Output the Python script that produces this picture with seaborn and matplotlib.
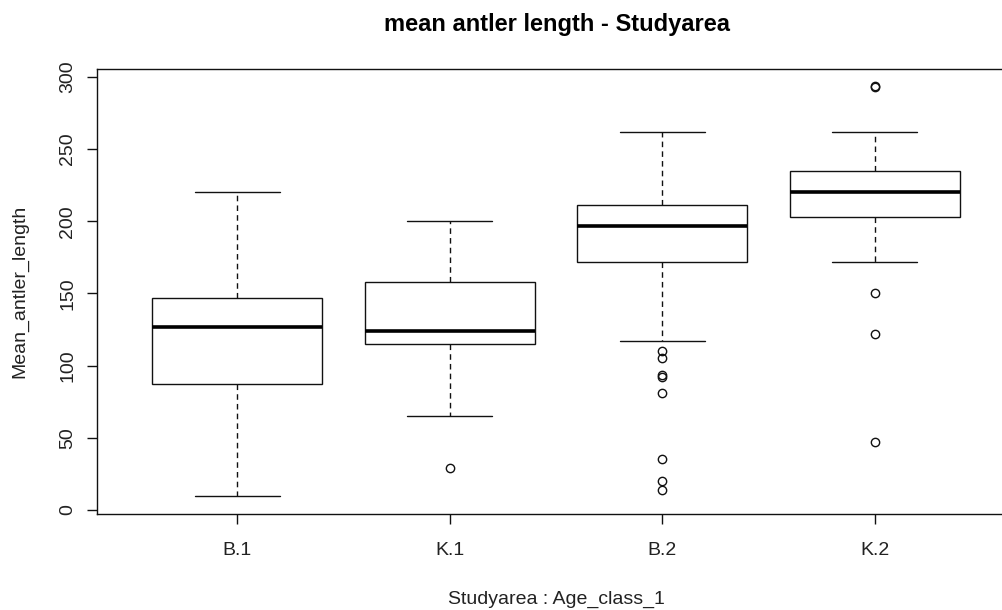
import numpy as np
import pandas as pd
import matplotlib
matplotlib.use("Agg")
import matplotlib.pyplot as plt
import seaborn as sns

# Data (values per Studyarea : Age_class_1 group)
categories = ["B.1", "K.1", "B.2", "K.2"]
b1_values = [10, 87, 127, 147, 220]
k1_values = [29, 65, 115, 120, 124, 140, 158, 180, 200]
b2_values = [14, 20, 35, 81, 92, 93.5, 105.5, 110, 117,
             172,
             175, 178, 181, 184, 187, 190, 193, 195,
             197,
             199, 201, 202, 204, 205, 207, 208, 210,
             211,
             214, 218, 222, 227, 232, 238, 245, 253, 262]
k2_values = [47, 122, 150, 172,
             203,
             208, 212, 216,
             220,
             224, 228, 231,
             235,
             245, 262, 293, 293.5]
y_ticks = [0, 50, 100, 150, 200, 250, 300]

groups = [b1_values, k1_values, b2_values, k2_values]
df = pd.DataFrame({
    "group": np.concatenate([[c] * len(v) for c, v in zip(categories, groups)]),
    "Mean_antler_length": np.concatenate(groups),
})

sns.set_theme(style="white")
plt.rcParams["font.family"] = ["Liberation Sans", "DejaVu Sans"]

W, H = 1003, 610
fig = plt.figure(figsize=(W / 100, H / 100), dpi=100)
left, right, top, bottom = 97, 1015, 69, 514
ax = fig.add_axes([left / W, (H - bottom) / H, (right - left) / W, (bottom - top) / H])

sns.boxplot(
    data=df, x="group", y="Mean_antler_length", order=categories,
    ax=ax, width=0.8, color="white", linecolor="#111111", linewidth=1.0,
    whis=1.5,
    whiskerprops=dict(linestyle=(0, (4, 3)), linewidth=1.0, color="#111111"),
    capprops=dict(linewidth=1.0, color="#111111"),
    medianprops=dict(linewidth=2.6, color="black"),
    flierprops=dict(marker="o", markersize=6, markerfacecolor="none",
                    markeredgecolor="#111111", markeredgewidth=1.0),
)

ax.set_xlim(-0.66, 3.66)
ax.set_ylim(-2.8, 305.5)
ax.set_yticks(y_ticks)
ax.set_yticklabels([str(t) for t in y_ticks], rotation=90, va="center")
for s in ax.spines.values():
    s.set_visible(True)
    s.set_color("#111111")
    s.set_linewidth(1.0)
ax.tick_params(axis="both", which="both", direction="out", length=7, width=1.0,
               color="#111111", labelsize=14, labelcolor="#222222",
               left=True, bottom=True)
ax.tick_params(axis="x", pad=13)
ax.tick_params(axis="y", pad=8)
ax.set_xlabel("Studyarea : Age_class_1", fontsize=14, color="#222222", va="center")
ax.set_ylabel("Mean_antler_length", fontsize=14, color="#222222", va="center")
ax.xaxis.set_label_coords(0.5, (bottom - 599) / (bottom - top))
ax.yaxis.set_label_coords((20 - left) / (right - left), 0.5)
fig.text(557 / W, 1 - 24 / H, "mean antler length - Studyarea", ha="center", va="center",
         fontsize=17, fontweight="bold", color="black")

fig.savefig("out.png", dpi=100)
